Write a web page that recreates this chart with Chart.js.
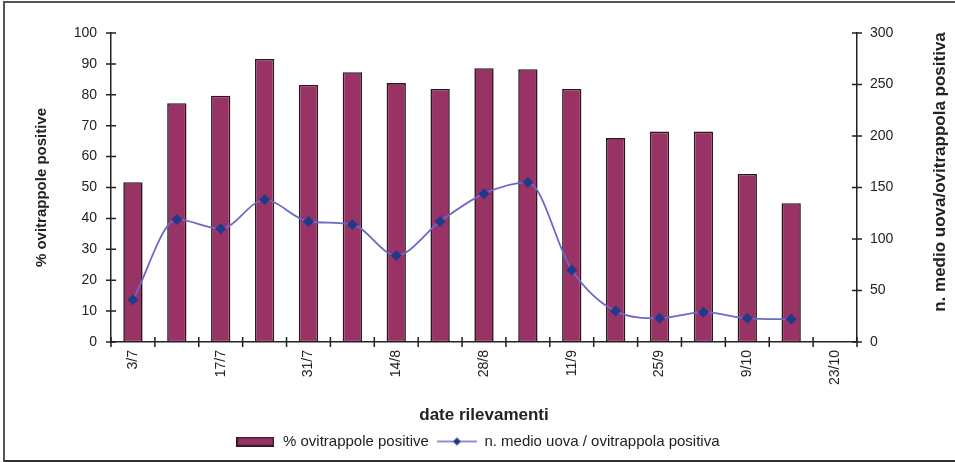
<!DOCTYPE html>
<html>
<head>
<meta charset="utf-8">
<script src="https://cdn.jsdelivr.net/npm/chart.js@4.4.1/dist/chart.umd.min.js"></script>
<style>
  html, body { margin: 0; padding: 0; background: #fff; }
  #wrap { position: relative; width: 955px; height: 462px; overflow: hidden; }
  #frame { position: absolute; left: 3px; top: 1px; width: 960px; height: 457px;
           border-left: 2px solid #555; border-top: 2px solid #555; border-bottom: 2px solid #333; pointer-events: none; }
  canvas { position: absolute; left: 0; top: 0; }
</style>
</head>
<body>
<div id="wrap">
  <canvas id="c" width="955" height="462"></canvas>
  <div id="frame"></div>
</div>
<script>
const categories = ["3/7","10/7","17/7","24/7","31/7","7/8","14/8","21/8","28/8","4/9","11/9","18/9","25/9","2/10","9/10","16/10","23/10"];
const pctPositive = [51.7, 77.3, 79.7, 91.6, 83.2, 87.3, 83.8, 81.9, 88.6, 88.3, 81.9, 66.0, 68.1, 68.1, 54.4, 44.9, null];
const eggsMean = [41, 119, 110, 138, 117, 114, 84, 117, 144, 155, 70, 30, 23, 29, 23, 22, null];
const leftTicks = [0,10,20,30,40,50,60,70,80,90,100];
const rightTicks = [0,50,100,150,200,250,300];
const seriesNames = ["% ovitrappole positive", "n. medio uova / ovitrappola positiva"];
const axisTitles = { x: "date rilevamenti", left: "% ovitrappole positive", right: "n. medio uova/ovitrappola positiva" };

const BAR = '#993366', BAR_EDGE = '#2e1522', LINE = '#6a6ac6', MARK = '#1f3a8a', AXIS = '#222';
const FONT = '"Liberation Sans", Arial, sans-serif';

function legendBar() {
  const c = document.createElement('canvas'); c.width = 38; c.height = 10;
  const g = c.getContext('2d');
  g.fillStyle = BAR_EDGE; g.fillRect(0, 0, 38, 10);
  g.fillStyle = BAR; g.fillRect(1.5, 1.5, 35, 7);
  return c;
}
function legendLine() {
  const c = document.createElement('canvas'); c.width = 40; c.height = 10;
  const g = c.getContext('2d');
  g.strokeStyle = LINE; g.lineWidth = 1.5;
  g.beginPath(); g.moveTo(0, 5); g.lineTo(40, 5); g.stroke();
  g.fillStyle = MARK; g.beginPath();
  g.moveTo(20, 1); g.lineTo(24, 5); g.lineTo(20, 9); g.lineTo(16, 5); g.closePath(); g.fill();
  return c;
}
const legendImgs = [legendBar(), legendLine()];

const axisDecor = {
  id: 'axisDecor',
  afterDraw(chart) {
    const ctx = chart.ctx;
    const x = chart.scales.x, yl = chart.scales.y, yr = chart.scales.y1;
    ctx.save();
    ctx.strokeStyle = AXIS; ctx.lineWidth = 1.5;
    ctx.beginPath();
    yl.ticks.forEach(t => { const p = yl.getPixelForValue(t.value); ctx.moveTo(yl.right - 5, p); ctx.lineTo(yl.right + 5, p); });
    yr.ticks.forEach(t => { const p = yr.getPixelForValue(t.value); ctx.moveTo(yr.left - 5, p); ctx.lineTo(yr.left + 5, p); });
    const n = categories.length;
    for (let i = 0; i <= n; i++) {
      let p;
      if (i === 0) p = x.left; else if (i === n) p = x.right;
      else p = (x.getPixelForValue(i - 1) + x.getPixelForValue(i)) / 2;
      ctx.moveTo(p, x.top - 5); ctx.lineTo(p, x.top + 5);
    }
    ctx.stroke();
    // right axis title, reading bottom-to-top
    ctx.fillStyle = AXIS;
    ctx.font = 'bold 17px ' + FONT;
    ctx.textAlign = 'center'; ctx.textBaseline = 'middle';
    ctx.translate(940, 172); ctx.rotate(-Math.PI / 2);
    ctx.fillText(axisTitles.right, 0, 0);
    ctx.restore();
  }
};

new Chart(document.getElementById('c'), {
  data: {
    labels: categories,
    datasets: [
      { type: 'line', label: seriesNames[1], data: eggsMean, yAxisID: 'y1', order: 0,
        borderColor: LINE, borderWidth: 1.8, cubicInterpolationMode: 'monotone', spanGaps: false,
        pointStyle: 'rectRot', pointRadius: 5.5, pointBackgroundColor: MARK, pointBorderColor: MARK, pointBorderWidth: 0 },
      { type: 'bar', label: seriesNames[0], data: pctPositive, yAxisID: 'y', order: 1,
        backgroundColor: BAR, borderColor: BAR_EDGE, borderWidth: 1.6, borderSkipped: false,
        barPercentage: 0.44, categoryPercentage: 1.0 }
    ]
  },
  options: {
    responsive: false, animation: false,
    layout: { padding: { top: 33, bottom: 3, left: 0, right: 0 } },
    plugins: {
      tooltip: { enabled: false },
      legend: {
        position: 'bottom',
        labels: {
          usePointStyle: true, pointStyleWidth: 40, padding: 8, color: AXIS,
          font: { family: FONT, size: 15 },
          generateLabels(chart) {
            return [0, 1].map(i => ({
              text: seriesNames[i], pointStyle: legendImgs[i], fillStyle: 'transparent',
              strokeStyle: 'transparent', lineWidth: 0, hidden: false, datasetIndex: i === 0 ? 1 : 0, fontColor: AXIS
            }));
          }
        }
      }
    },
    scales: {
      x: {
        type: 'category', offset: true,
        grid: { display: false, drawTicks: false },
        border: { display: true, color: AXIS, width: 1.5 },
        ticks: { autoSkip: false, minRotation: 90, maxRotation: 90, padding: 8, color: AXIS,
                 font: { family: FONT, size: 14 },
                 callback(v, i) { return i % 2 === 0 ? categories[i] : ''; } },
        title: { display: true, text: axisTitles.x, color: AXIS, font: { family: FONT, size: 17, weight: 'bold' }, padding: { top: 0, bottom: 0 } },
        afterFit(s) { s.height = 84; }
      },
      y: {
        position: 'left', min: 0, max: 100,
        grid: { display: false, drawTicks: false },
        border: { display: true, color: AXIS, width: 1.5 },
        afterBuildTicks(s) { s.ticks = leftTicks.map(v => ({ value: v })); },
        ticks: { padding: 14, color: AXIS, font: { family: FONT, size: 14 } },
        title: { display: true, text: axisTitles.left, color: AXIS, font: { family: FONT, size: 15, weight: 'bold' }, padding: { top: 33, bottom: 0 } },
        afterFit(s) { s.width = 111; }
      },
      y1: {
        position: 'right', min: 0, max: 300,
        grid: { display: false, drawTicks: false },
        border: { display: true, color: AXIS, width: 1.5 },
        afterBuildTicks(s) { s.ticks = rightTicks.map(v => ({ value: v })); },
        ticks: { padding: 13, color: AXIS, font: { family: FONT, size: 14 } },
        afterFit(s) { s.width = 98; }
      }
    }
  },
  plugins: [axisDecor]
});
</script>
</body>
</html>
